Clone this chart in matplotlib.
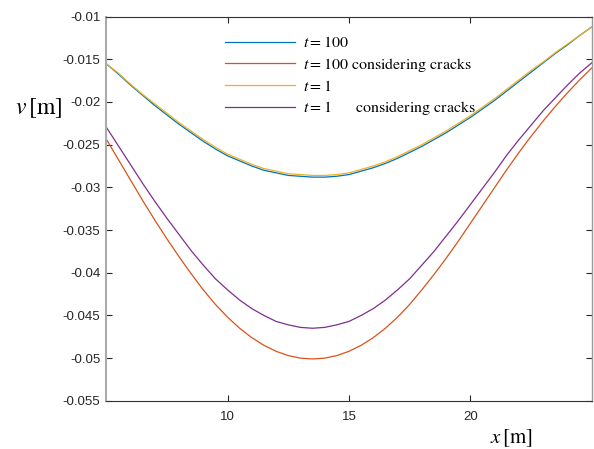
import numpy as np
from matplotlib import pyplot as plt

plt.rcParams['mathtext.fontset'] = 'stix'
plt.rcParams['font.family'] = ['Liberation Sans', 'DejaVu Sans']

# positions along the beam [m], every 0.5 m
x = np.arange(5, 25.01, 0.5)

# vertical displacement v [m]
v_t100 = [-0.0155, -0.0167, -0.0180, -0.0192, -0.0204, -0.0215, -0.0226, -0.0236, -0.0246, -0.0255,
          -0.0263, -0.0269, -0.0275, -0.0280, -0.0283, -0.0286, -0.0287, -0.0288, -0.0288, -0.0287,
          -0.0285, -0.0281, -0.0277, -0.0272, -0.0266, -0.0259, -0.0252, -0.0244, -0.0236, -0.0227,
          -0.0218, -0.0208, -0.0198, -0.0187, -0.0176, -0.0165, -0.0154, -0.0143, -0.0133, -0.0122,
          -0.0112]
v_t100_cr = [-0.0243, -0.0267, -0.0291, -0.0315, -0.0338, -0.0360, -0.0381, -0.0401, -0.0420, -0.0437,
             -0.0452, -0.0465, -0.0476, -0.0485, -0.0492, -0.0497, -0.0500, -0.0501, -0.0500, -0.0497,
             -0.0492, -0.0485, -0.0476, -0.0465, -0.0452, -0.0437, -0.0420, -0.0402, -0.0383, -0.0363,
             -0.0342, -0.0321, -0.0300, -0.0279, -0.0259, -0.0240, -0.0222, -0.0205, -0.0189, -0.0174,
             -0.0160]
v_t1 = [-0.0155, -0.0166, -0.0179, -0.0191, -0.0202, -0.0213, -0.0224, -0.0234, -0.0244, -0.0253,
        -0.0261, -0.0267, -0.0273, -0.0278, -0.0281, -0.0284, -0.0285, -0.0286, -0.0286, -0.0285,
        -0.0283, -0.0279, -0.0275, -0.0270, -0.0264, -0.0257, -0.0250, -0.0242, -0.0234, -0.0225,
        -0.0216, -0.0206, -0.0196, -0.0185, -0.0174, -0.0163, -0.0153, -0.0142, -0.0132, -0.0122,
        -0.0112]
v_t1_cr = [-0.0229, -0.0251, -0.0273, -0.0295, -0.0316, -0.0336, -0.0355, -0.0374, -0.0391, -0.0407,
           -0.0420, -0.0432, -0.0442, -0.0450, -0.0457, -0.0461, -0.0464, -0.0465, -0.0464, -0.0461,
           -0.0457, -0.0450, -0.0442, -0.0432, -0.0420, -0.0407, -0.0391, -0.0375, -0.0357, -0.0339,
           -0.0320, -0.0301, -0.0282, -0.0262, -0.0244, -0.0227, -0.0210, -0.0195, -0.0180, -0.0166,
           -0.0154]

labels = [r'$t=100$', r'$t=100$' + ' considering cracks', r'$t=1$', r'$t=1$' + '      considering cracks']
colors = ['#0072BD', '#D95319', '#EDB120', '#7E2F8E']

fig = plt.figure(figsize=(5.94, 4.49), dpi=100)
ax = fig.add_axes([0.1785, 0.1073, 0.818, 0.8557])

for vals, lab, c in zip([v_t100, v_t100_cr, v_t1, v_t1_cr], labels, colors):
    ax.plot(x, vals, color=c, lw=0.9, label=lab)

ax.set_xlim(5, 25)
ax.set_ylim(-0.055, -0.01)
ax.set_xticks([10, 15, 20])
yt = np.arange(-0.055, -0.0099, 0.005)
ax.set_yticks(yt)
ax.set_yticklabels(['%g' % round(t, 3) for t in yt])
ax.tick_params(direction='in', length=4.3, width=0.8, top=True, right=True,
               labelsize=9.5, labelcolor='#262626', color='#262626', pad=4)
ax.tick_params(axis='x', pad=7)

for s in ['top', 'bottom']:
    ax.spines[s].set_color('#333333')
    ax.spines[s].set_linewidth(0.8)
ax.spines['left'].set_color('#aaaaaa')
ax.spines['left'].set_linewidth(1.5)
ax.spines['right'].set_color('#999999')
ax.spines['right'].set_linewidth(1.0)

ax.set_ylabel(r'$v\,[\mathrm{m}]$', rotation=0, fontsize=17, ha='left', va='center')
ax.yaxis.set_label_coords(-0.187, 0.762)
ax.set_xlabel(r'$x\,[\mathrm{m}]$', fontsize=15, ha='left', va='center')
ax.xaxis.set_label_coords(0.79, -0.097)

leg = ax.legend(loc='upper left', bbox_to_anchor=(0.228, 0.972), frameon=False, borderpad=0,
                handlelength=4.4, handletextpad=0.5, labelspacing=0.33,
                prop={'family': 'STIXGeneral', 'size': 11.5})

fig.savefig('out.png', dpi=100)
